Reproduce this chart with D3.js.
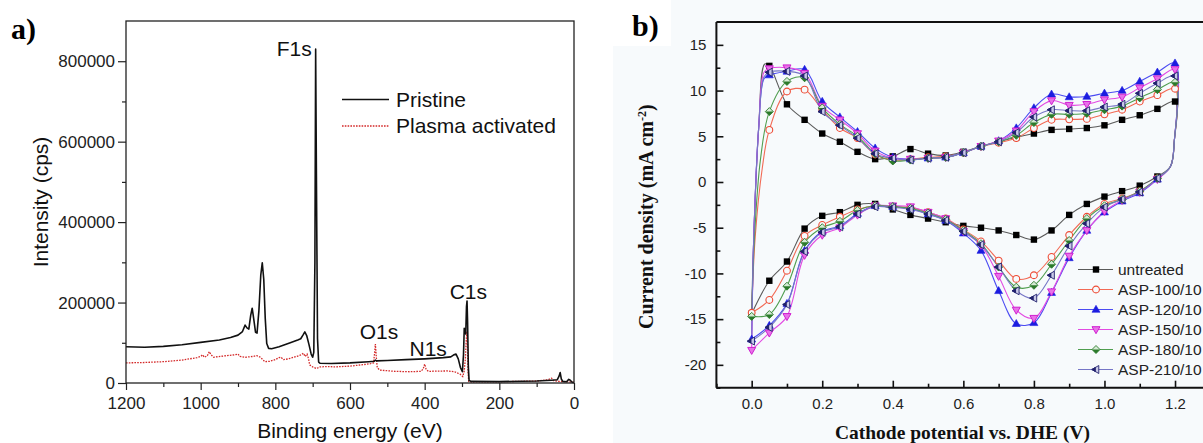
<!DOCTYPE html>
<html>
<head>
<meta charset="utf-8">
<script src="https://cdn.jsdelivr.net/npm/d3@7"></script>
<style>
  body { margin: 0; background: #fff; }
  svg { display: block; }
</style>
</head>
<body>
<svg id="fig" width="1203" height="443"></svg>
<script>
// ---------------- Panel a: XPS survey spectra ----------------
// [binding energy (eV), intensity (cps)]
const pristineSpectrum = [
  [1200, 90000], [1150, 89000], [1100, 91000], [1050, 95000], [1000, 101000], [950, 107000],
  [920, 113000], [900, 119000], [888, 128000], [881, 144000], [876, 137000], [871, 134000],
  [866, 168000], [862, 186000], [858, 160000], [853, 126000], [849, 124000], [844, 180000],
  [839, 268000], [835, 299000], [831, 258000], [827, 160000], [823, 98000], [818, 86000],
  [810, 85000], [790, 90000], [760, 100000], [740, 107000], [732, 110000], [726, 119000],
  [721, 127000], [716, 118000], [710, 96000], [704, 72000], [700, 64000], [697, 76000],
  [694, 300000], [692, 830000], [690, 520000], [687, 110000], [684, 52000], [680, 49000],
  [650, 48500], [600, 50000], [550, 53000], [535, 54000], [532, 57000], [529, 55000],
  [500, 56000], [450, 58000], [400, 60000], [350, 63000], [330, 65000], [322, 70000],
  [316, 72000], [310, 60000], [304, 38000], [299, 28000], [296, 70000], [294, 136000],
  [292, 128000], [290, 122000], [288, 190000], [286.5, 204000], [285, 150000], [283, 40000],
  [281, 6000], [275, 4000], [200, 3500], [100, 5000], [60, 7000], [45, 8000], [40, 17000],
  [37, 26000], [34, 10000], [30, 4000], [20, 3000], [14, 9000], [10, 7000], [5, 2000], [0, 1000]
];
const plasmaSpectrum = [
  [1200, 50000], [1150, 51000], [1100, 53000], [1050, 57000], [1010, 63000], [1000, 66000],
  [995, 70000], [990, 64000], [982, 68000], [977, 78000], [972, 70000], [965, 64000],
  [940, 67000], [910, 70000], [900, 72000], [895, 66000], [880, 64000], [860, 66000],
  [850, 68000], [840, 64000], [828, 53000], [815, 54000], [800, 58000], [790, 63000],
  [785, 64000], [778, 58000], [765, 60000], [740, 67000], [730, 70000], [725, 74000],
  [720, 66000], [715, 72000], [711, 60000], [708, 45000], [700, 40000], [690, 36000],
  [680, 40000], [660, 41000], [640, 40000], [600, 42000], [570, 45000], [545, 48000],
  [537, 50000], [534, 75000], [532, 97000], [530, 70000], [527, 38000], [520, 32000],
  [480, 29000], [440, 28000], [410, 29000], [404, 35000], [400, 47000], [396, 34000],
  [390, 29000], [340, 30000], [320, 28000], [305, 22000], [298, 16000], [294, 30000],
  [291, 60000], [289, 100000], [287, 128000], [285.5, 100000], [284, 30000], [282, 4000],
  [275, 2500], [200, 3000], [100, 5000], [70, 8000], [60, 12000], [55, 6000], [40, 4000],
  [20, 3000], [0, 2000]
];
const xpsSeriesNames = ["Pristine", "Plasma activated"];
const xpsEnergyTicks = [1200, 1000, 800, 600, 400, 200, 0];
const xpsEnergyMinorTicks = [1100, 900, 700, 500, 300, 100];
const xpsIntensityTicks = [0, 200000, 400000, 600000, 800000];
const xpsIntensityMinorTicks = [100000, 300000, 500000, 700000];
// core-level peaks: name, energy (eV), intensity at the labelled peak top
const xpsPeakNames = ["F1s", "O1s", "N1s", "C1s"];
const xpsPeakEnergies = [692, 532, 400, 287];
const xpsPeakTops = [830000, 97000, 47000, 204000];

// ---------------- Panel b: cyclic voltammograms ----------------
const cvSeriesNames = ["untreated", "ASP-100/10", "ASP-120/10", "ASP-150/10", "ASP-180/10", "ASP-210/10"];
const cvAnodicPotential = [0.05, 0.10, 0.15, 0.20, 0.25, 0.30, 0.35, 0.40, 0.45, 0.50, 0.55, 0.60,
  0.65, 0.70, 0.75, 0.80, 0.85, 0.90, 0.95, 1.00, 1.05, 1.10, 1.15, 1.20];
const cvCathodicPotential = [0.00, 0.05, 0.10, 0.15, 0.20, 0.25, 0.30, 0.35, 0.40, 0.45, 0.50, 0.55,
  0.60, 0.65, 0.70, 0.75, 0.80, 0.85, 0.90, 0.95, 1.00, 1.05, 1.10, 1.15];

// current density (mA cm-2), forward (anodic) sweep
const untreatedAnodic = [12.7, 8.5, 6.8, 5.3, 4.4, 3.3, 2.5, 2.8, 3.6, 3.1, 2.9, 3.3, 3.9, 4.4, 4.9, 5.3, 5.7, 5.8, 5.9, 6.2, 6.8, 7.3, 8.0, 8.8];
const asp100Anodic = [5.7, 9.9, 10.1, 7.9, 5.9, 4.8, 3.0, 2.4, 2.5, 2.7, 2.8, 3.2, 3.9, 4.3, 4.8, 5.9, 6.8, 6.85, 6.9, 7.4, 7.9, 8.8, 9.5, 10.2];
const asp120Anodic = [11.7, 12.1, 12.3, 8.8, 7.1, 5.5, 3.7, 2.7, 2.5, 2.6, 2.7, 3.2, 3.9, 4.5, 5.9, 8.1, 9.6, 9.3, 9.35, 9.7, 10.0, 11.0, 12.0, 13.0];
const asp150Anodic = [12.4, 12.5, 11.9, 8.3, 6.8, 5.3, 3.4, 2.6, 2.5, 2.6, 2.7, 3.2, 3.9, 4.5, 5.6, 7.7, 8.9, 8.4, 8.5, 9.0, 9.3, 10.3, 11.3, 12.3];
const asp180Anodic = [7.7, 11.0, 11.4, 8.1, 6.3, 5.0, 3.1, 2.3, 2.4, 2.6, 2.7, 3.2, 3.9, 4.4, 5.1, 6.5, 7.4, 7.4, 7.5, 7.9, 8.3, 9.2, 10.1, 10.9];
const asp210Anodic = [12.0, 12.1, 11.6, 7.7, 6.2, 4.8, 3.1, 2.6, 2.4, 2.6, 2.7, 3.2, 3.9, 4.4, 5.4, 7.1, 7.9, 7.8, 7.8, 8.2, 8.5, 9.7, 10.8, 11.6];

// current density (mA cm-2), reverse (cathodic) sweep
const untreatedCathodic = [-14.4, -10.8, -8.7, -5.1, -3.7, -3.3, -2.5, -2.4, -3.0, -3.6, -4.0, -4.4, -4.8, -5.0, -5.3, -5.8, -6.3, -5.3, -3.6, -2.4, -1.6, -1.0, -0.4, 0.6];
const asp100Cathodic = [-14.3, -12.9, -9.7, -5.9, -4.7, -3.8, -3.0, -2.6, -2.7, -2.8, -3.3, -4.0, -5.2, -6.5, -8.6, -10.6, -10.2, -8.2, -5.8, -3.8, -2.4, -1.8, -1.0, 0.4];
const asp120Cathodic = [-17.2, -15.7, -13.3, -7.5, -5.4, -4.8, -3.45, -2.6, -2.7, -2.9, -3.5, -4.2, -5.6, -7.5, -11.9, -15.5, -15.4, -12.1, -8.3, -5.3, -3.3, -2.1, -1.2, 0.3];
const asp150Cathodic = [-18.4, -16.5, -14.7, -8.0, -5.8, -5.0, -3.6, -2.6, -2.6, -2.7, -3.3, -4.0, -5.4, -6.9, -10.3, -14.0, -14.9, -12.0, -8.1, -5.3, -3.2, -2.0, -1.1, 0.3];
const asp180Cathodic = [-14.7, -14.5, -11.4, -6.6, -5.0, -4.3, -3.1, -2.6, -2.7, -2.9, -3.4, -4.1, -5.3, -6.75, -9.3, -11.5, -11.3, -9.0, -6.4, -4.0, -2.6, -1.9, -1.0, 0.4];
const asp210Cathodic = [-17.4, -15.9, -13.4, -7.6, -5.5, -4.9, -3.5, -2.7, -2.8, -3.0, -3.5, -4.2, -5.4, -6.85, -9.3, -11.9, -12.7, -10.2, -7.0, -4.55, -2.75, -1.9, -1.1, 0.4];

// unmarked vertices of the sweep: rise just after 0 V and turn-around at 1.2 V
const untreatedOnset = [[0.006, -6], [0.02, 6], [0.037, 12.9]];
const asp100Onset = [[0.01, -6], [0.03, 1.5]];
const asp120Onset = [[0.006, -6], [0.02, 6], [0.035, 11.3]];
const asp150Onset = [[0.006, -6], [0.02, 6], [0.035, 12.0]];
const asp180Onset = [[0.008, -6], [0.025, 2.5]];
const asp210Onset = [[0.006, -6], [0.02, 6], [0.035, 11.5]];
const cvReversal = [[1.198, 4.5], [1.187, 1.7]];

const cvPotentialTicks = [0.0, 0.2, 0.4, 0.6, 0.8, 1.0, 1.2];
const cvPotentialTickLabels = ["0.0", "0.2", "0.4", "0.6", "0.8", "1.0", "1.2"];
const cvPotentialMinorTicks = [-0.1, 0.1, 0.3, 0.5, 0.7, 0.9, 1.1];
const cvCurrentTicks = [-20, -15, -10, -5, 0, 5, 10, 15];
const cvCurrentTickLabels = ["-20", "-15", "-10", "-5", "0", "5", "10", "15"];
const cvCurrentMinorTicks = [-22.5, -17.5, -12.5, -7.5, -2.5, 2.5, 7.5, 12.5];

// ---------------- drawing ----------------
const W = 1203, H = 443;
const SANS = "'Liberation Sans', Arial, Helvetica, sans-serif";
const SERIF = "'Liberation Serif', 'Times New Roman', serif";
const svg = d3.select("#fig");

svg.append("rect").attr("width", W).attr("height", H).attr("fill", "#ffffff");
// right-hand figure sits on a faintly tinted background
const tintB = "#f7fafc";
svg.append("rect").attr("x", 613).attr("y", 0).attr("width", W - 613).attr("height", H).attr("fill", tintB);
svg.append("rect").attr("x", 613).attr("y", 0).attr("width", 58).attr("height", 46).attr("fill", "#ffffff");

// ---- panel a ----
const xA = d3.scaleLinear().domain([1200, 0]).range([126, 574]);
const yA = d3.scaleLinear().domain([0, 900000]).range([383, 21]);
const gA = svg.append("g");

function styleAxis(g, size) {
  g.select(".domain").remove();
  g.selectAll(".tick line").attr("stroke", "#222").attr("stroke-width", 1.2);
  g.selectAll(".tick text").attr("fill", "#222").style("font-family", SANS).style("font-size", size + "px");
}

gA.append("g").attr("transform", "translate(0,383)")
  .call(d3.axisBottom(xA).tickValues(xpsEnergyMinorTicks).tickSize(4).tickFormat(""))
  .call(g => styleAxis(g, 17));
gA.append("g").attr("transform", "translate(0,383)")
  .call(d3.axisBottom(xA).tickValues(xpsEnergyTicks).tickSize(7).tickPadding(7).tickFormat(d3.format("d")))
  .call(g => styleAxis(g, 17));
gA.append("g").attr("transform", "translate(126,0)")
  .call(d3.axisLeft(yA).tickValues(xpsIntensityMinorTicks).tickSize(4).tickFormat(""))
  .call(g => styleAxis(g, 17));
gA.append("g").attr("transform", "translate(126,0)")
  .call(d3.axisLeft(yA).tickValues(xpsIntensityTicks).tickSize(8).tickPadding(3).tickFormat(d3.format("d")))
  .call(g => styleAxis(g, 17));

const lineA = d3.line().x(d => xA(d[0])).y(d => yA(d[1]));
gA.append("path").datum(plasmaSpectrum).attr("d", lineA)
  .attr("fill", "none").attr("stroke", "#d42a2a").attr("stroke-width", 1.3).attr("stroke-dasharray", "1.6 1.2");
gA.append("path").datum(pristineSpectrum).attr("d", lineA)
  .attr("fill", "none").attr("stroke", "#111").attr("stroke-width", 1.6).attr("stroke-linejoin", "round");

gA.append("rect").attr("x", 126).attr("y", 21).attr("width", 448).attr("height", 362)
  .attr("fill", "none").attr("stroke", "#222").attr("stroke-width", 1.3);

// peak labels, offset from the peak tops
const peakOffsets = [[-4, 7, "end"], [3.5, -4.7, "middle"], [3.5, -7.6, "middle"], [1.5, -2, "middle"]];
xpsPeakNames.forEach((name, i) => {
  gA.append("text").text(name)
    .attr("x", xA(xpsPeakEnergies[i]) + peakOffsets[i][0])
    .attr("y", yA(xpsPeakTops[i]) + peakOffsets[i][1])
    .attr("text-anchor", peakOffsets[i][2])
    .style("font-family", SANS).style("font-size", "21px").attr("fill", "#111");
});

// legend
const legA = gA.append("g");
const legAStyles = [
  { stroke: "#111", width: 1.6, dash: null },
  { stroke: "#d42a2a", width: 1.3, dash: "1.6 1.2" }
];
xpsSeriesNames.forEach((name, i) => {
  const y = 99.5 + i * 26.5;
  legA.append("line").attr("x1", 342).attr("x2", 389).attr("y1", y).attr("y2", y)
    .attr("stroke", legAStyles[i].stroke).attr("stroke-width", legAStyles[i].width)
    .attr("stroke-dasharray", legAStyles[i].dash);
  legA.append("text").text(name).attr("x", 396).attr("y", y + 7.3)
    .style("font-family", SANS).style("font-size", "21px").attr("fill", "#111");
});

gA.append("text").text("Binding energy (eV)")
  .attr("x", 350).attr("y", 438).attr("text-anchor", "middle")
  .style("font-family", SANS).style("font-size", "21px").attr("fill", "#111");
gA.append("text").text("Intensity (cps)")
  .attr("transform", "translate(48,202) rotate(-90)").attr("text-anchor", "middle")
  .style("font-family", SANS).style("font-size", "21px").attr("fill", "#111");

svg.append("text").text("a)").attr("x", 11).attr("y", 39)
  .style("font-family", SERIF).style("font-weight", "bold").style("font-size", "30px").attr("fill", "#000");

// ---- panel b ----
const xB = d3.scaleLinear().domain([-0.1, 1.3]).range([716.4, 1210.3]);
const yB = d3.scaleLinear().domain([-22.5, 17.5]).range([387.7, 22]);
const gB = svg.append("g");

gB.append("g").attr("transform", "translate(0,387.7)")
  .call(d3.axisBottom(xB).tickValues(cvPotentialMinorTicks).tickSizeInner(-4).tickSizeOuter(0).tickFormat(""))
  .call(g => styleAxis(g, 15));
gB.append("g").attr("transform", "translate(0,387.7)")
  .call(d3.axisBottom(xB).tickValues(cvPotentialTicks).tickSizeInner(-7).tickSizeOuter(0).tickPadding(11)
    .tickFormat((d, i) => cvPotentialTickLabels[i]))
  .call(g => styleAxis(g, 15));
gB.append("g").attr("transform", "translate(716.4,0)")
  .call(d3.axisLeft(yB).tickValues(cvCurrentMinorTicks).tickSizeInner(-4).tickSizeOuter(0).tickFormat(""))
  .call(g => styleAxis(g, 15));
gB.append("g").attr("transform", "translate(716.4,0)")
  .call(d3.axisLeft(yB).tickValues(cvCurrentTicks).tickSizeInner(-7).tickSizeOuter(0).tickPadding(10)
    .tickFormat((d, i) => cvCurrentTickLabels[i]))
  .call(g => styleAxis(g, 15));
gB.selectAll(".tick line").attr("stroke", "#111").attr("stroke-width", 1.6);

const cvSeries = [
  { anodic: untreatedAnodic, cathodic: untreatedCathodic, onset: untreatedOnset,
    line: "#5a5a5a", mark: "#000", shape: "square" },
  { anodic: asp100Anodic, cathodic: asp100Cathodic, onset: asp100Onset,
    line: "#f26a55", mark: "#ee4b35", shape: "circle" },
  { anodic: asp120Anodic, cathodic: asp120Cathodic, onset: asp120Onset,
    line: "#4b4bf2", mark: "#1c1ce0", shape: "triUp" },
  { anodic: asp150Anodic, cathodic: asp150Cathodic, onset: asp150Onset,
    line: "#e24ae2", mark: "#d01ed0", shape: "triDown" },
  { anodic: asp180Anodic, cathodic: asp180Cathodic, onset: asp180Onset,
    line: "#4f9e4f", mark: "#2b7a2b", shape: "diamondHalf" },
  { anodic: asp210Anodic, cathodic: asp210Cathodic, onset: asp210Onset,
    line: "#7676c6", mark: "#22226e", shape: "triLeftHalf" }
];

function sweepPoints(s) {
  const pts = [[cvCathodicPotential[0], s.cathodic[0]]];
  s.onset.forEach(p => pts.push(p));
  cvAnodicPotential.forEach((v, i) => pts.push([v, s.anodic[i]]));
  cvReversal.forEach(p => pts.push(p));
  for (let i = cvCathodicPotential.length - 1; i >= 0; i--) pts.push([cvCathodicPotential[i], s.cathodic[i]]);
  return pts;
}
function markerPoints(s) {
  return cvAnodicPotential.map((v, i) => [v, s.anodic[i]])
    .concat(cvCathodicPotential.map((v, i) => [v, s.cathodic[i]]));
}

function drawMarker(g, shape, color) {
  if (shape === "square") {
    g.append("rect").attr("x", -3.2).attr("y", -3.2).attr("width", 6.4).attr("height", 6.4).attr("fill", color);
  } else if (shape === "circle") {
    g.append("circle").attr("r", 3.4).attr("fill", tintB).attr("stroke", color).attr("stroke-width", 1.1);
  } else if (shape === "triUp") {
    g.append("path").attr("d", "M0,-4.2L4,2.8L-4,2.8Z").attr("fill", color).attr("stroke", color).attr("stroke-width", 0.6);
  } else if (shape === "triDown") {
    g.append("path").attr("d", "M0,4.2L4,-2.8L-4,-2.8Z").attr("fill", "#e872e8").attr("stroke", color).attr("stroke-width", 1);
  } else if (shape === "diamondHalf") {
    g.append("path").attr("d", "M0,-4L4,0L0,4L-4,0Z").attr("fill", "#d5ead5").attr("stroke", color).attr("stroke-width", 0.9);
    g.append("path").attr("d", "M-4,0L4,0L0,4Z").attr("fill", color);
  } else if (shape === "triLeftHalf") {
    g.append("path").attr("d", "M-4.2,0L2.8,-4L2.8,4Z").attr("fill", "#c9c9e8").attr("stroke", color).attr("stroke-width", 0.9);
    g.append("path").attr("d", "M-4.2,0L-0.7,-2L-0.7,2Z").attr("fill", color).attr("stroke", color).attr("stroke-width", 1);
  }
}

const lineB = d3.line().x(d => xB(d[0])).y(d => yB(d[1])).curve(d3.curveCatmullRom.alpha(0.5));
cvSeries.forEach(s => {
  gB.append("path").datum(sweepPoints(s)).attr("d", lineB)
    .attr("fill", "none").attr("stroke", s.line).attr("stroke-width", 1.1).attr("stroke-linejoin", "round");
});
cvSeries.forEach(s => {
  markerPoints(s).forEach(p => {
    const m = gB.append("g").attr("transform", `translate(${xB(p[0])},${yB(p[1])})`);
    drawMarker(m, s.shape, s.mark);
  });
});

// frame: left spine, top and bottom edges (right edge runs past the page)
gB.append("line").attr("x1", 716.4).attr("x2", 716.4).attr("y1", 22).attr("y2", 387.7).attr("stroke", "#111").attr("stroke-width", 2);
gB.append("line").attr("x1", 716.4).attr("x2", W).attr("y1", 22).attr("y2", 22).attr("stroke", "#111").attr("stroke-width", 2);
gB.append("line").attr("x1", 716.4).attr("x2", W).attr("y1", 387.7).attr("y2", 387.7).attr("stroke", "#111").attr("stroke-width", 2);

// legend
cvSeriesNames.forEach((name, i) => {
  const s = cvSeries[i];
  const y = 269.5 + i * 20;
  gB.append("line").attr("x1", 1078).attr("x2", 1113).attr("y1", y).attr("y2", y)
    .attr("stroke", s.line).attr("stroke-width", 1.2);
  const m = gB.append("g").attr("transform", `translate(1096,${y})`);
  drawMarker(m, s.shape, s.mark);
  gB.append("text").text(name).attr("x", 1118).attr("y", y + 5.6)
    .style("font-family", SANS).style("font-size", "15.5px").attr("fill", "#222");
});

gB.append("text").text("Cathode potential vs. DHE (V)")
  .attr("x", 962.5).attr("y", 438.5).attr("text-anchor", "middle")
  .style("font-family", SERIF).style("font-weight", "bold").style("font-size", "19.5px").attr("fill", "#111");
const yTitle = gB.append("text")
  .attr("transform", "translate(652.5,216.7) rotate(-90)").attr("text-anchor", "middle")
  .style("font-family", SERIF).style("font-weight", "bold").style("font-size", "20px").attr("fill", "#111");
yTitle.append("tspan").text("Current density (mA cm");
yTitle.append("tspan").text("-2").attr("dy", -7).style("font-size", "12px");
yTitle.append("tspan").text(")").attr("dy", 7);

svg.append("text").text("b)").attr("x", 632).attr("y", 36)
  .style("font-family", SERIF).style("font-weight", "bold").style("font-size", "30px").attr("fill", "#000");
</script>
</body>
</html>
